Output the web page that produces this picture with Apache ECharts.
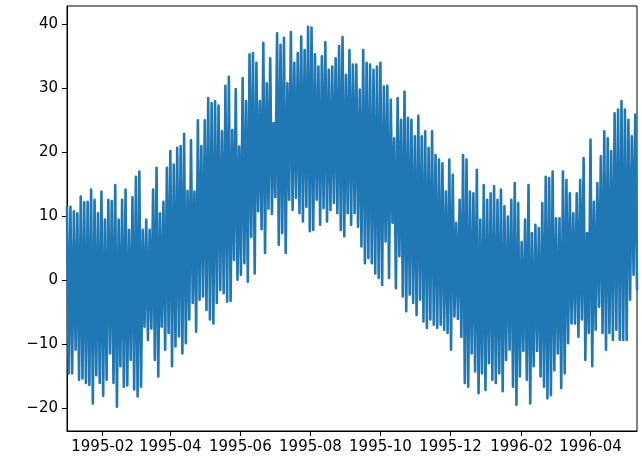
<!DOCTYPE html>
<html><head><meta charset="utf-8">
<script src="https://cdn.jsdelivr.net/npm/echarts@6/dist/echarts.min.js"></script>
<style>html,body{margin:0;padding:0;background:#fff}#c{width:642px;height:456px}</style>
</head><body><div id="c"></div>
<script>
// Series: for each 3-day block, the upper spike and the lower spike
const startDate = '1995-01-01';
const stepDays = 3;
const highs = [
 11.6,11.5,10.8,10.5,13.1,12.2,12.3,14.2,12.6,10.5,13.9,9.5,12.6,12.4,14.9,9.5,12.6,14.2,7.9,13,16.2,
 17.0,7.9,9.5,7.9,14.2,17.6,10.5,12.3,17.6,20.2,18.1,20.7,21,22.9,14,21.9,13.9,25,21,25,28.5,
 27.7,28,27.3,23.3,30.4,31.8,23.5,29.9,20.9,31.6,28,35.3,35.5,34,28,37.1,30.8,34.7,24.6,38.6,36.8,
 37.9,30.8,38.8,34,35.5,38.1,36,39.6,39.5,35.3,33.4,35,37.2,32.9,33.4,34.7,36.6,38,32.1,36,33.7,
 33.7,29.8,36,34,33.7,32.9,33.4,34,30.3,30.4,28.2,22.2,28.5,25.1,29.5,25.4,25.1,22.5,25.7,22.5,23.3,
 20.7,23.3,19.6,18.9,18.3,13.9,18.9,16.5,9,12.6,19.6,18.9,13.9,13.6,17.3,9.5,14.9,12.6,13.6,14.7,12.6,
 14.2,11.6,10,12.6,15.2,12.1,6,9.5,14.9,7.4,8.7,8.2,12.1,16.2,16,17,9.7,9.7,17,15.7,13.6,
 10.5,13.6,15.7,19.1,7.4,22,12.3,15.2,19.4,23.3,22.2,20.2,26.1,26.7,28,26.7,25.1,22.5,25.9
];
const lows = [
 -14.5,-14.5,-10.8,-15.5,-15.3,-16,-16.3,-19.2,-14.8,-16,-18,-15.5,-11.4,-16,-19.7,-13.4,-16.6,-16.4,-12.4,-17,-18.1,
 -16.6,-7.2,-9.3,-7.5,-12.4,-15,-7.2,-10.8,-8.2,-13.4,-10.3,-8.75,-11.4,-9.8,-6.1,-3.5,-8,-3,-2.5,-4.6,-6.1,
 -6.7,-3.5,-1.5,-2,-3.3,-3.2,3.2,0.1,0.9,2.7,-0.2,6.8,1.1,10.8,8,4.3,11.2,10.4,13,5.6,7.4,
 4.3,12.6,11,12.9,10.5,9.2,11.5,7.7,7.9,12.6,8.7,11.3,9.2,11,12.1,10.5,7.9,6.9,10.5,8.7,10.5,
 8.4,5.3,2.7,3.5,2.7,1.1,0.4,-0.7,6.1,0.4,9,-1.2,3.8,-2.5,-4.8,-2.2,-3.5,-5.4,-3,-6.4,-7.4,
 -6.1,-6.9,-7.4,-6.9,-7.7,-8.2,-10.8,-5.6,-6,-8.8,-16,-16.6,-11.4,-14.2,-17.6,-14.5,-17.1,-12.9,-15.5,-16,-14.5,
 -17.3,-12.4,-10.8,-16.6,-19.4,-15,-11,-15.5,-19.2,-13.4,-11,-15,-16.6,-18.4,-17.9,-14,-11.4,-16.8,-14.5,-9.8,-6.7,
 -6.7,-8.8,-6.1,-12.4,-8.2,-13.4,-7.7,-4.1,-8.2,-10.8,-8.2,-9.3,-7.7,-9.3,-9.3,-9.3,-3,0.9,-1.5
];
const xTickLabels = ['1995-02','1995-04','1995-06','1995-08','1995-10','1995-12','1996-02','1996-04'];
const yTickValues = [-20,-10,0,10,20,30,40];

const DAY = 86400000;
const t0 = Date.parse(startDate + 'T00:00:00Z');
const data = [];
for (let i = 0; i < highs.length; i++) {
  data.push([t0 + i * stepDays * DAY, highs[i]]);
  data.push([t0 + (i + 0.5) * stepDays * DAY, lows[i]]);
}
const xTicks = xTickLabels.map(s => Date.parse(s + '-01T00:00:00Z'));
function fmtMonth(v) {
  const d = new Date(v);
  const m = d.getUTCMonth() + 1;
  return d.getUTCFullYear() + '-' + (m < 10 ? '0' + m : '' + m);
}

const font = { color: '#000', fontFamily: 'DejaVu Sans', fontSize: 15 };
const chart = echarts.init(document.getElementById('c'), null, { renderer: 'canvas' });
chart.setOption({
  animation: false,
  backgroundColor: '#fff',
  grid: { left: 67, top: 6, width: 570, height: 425, show: true, borderColor: '#000', borderWidth: 1 },
  xAxis: {
    type: 'value',
    min: data[0][0],
    max: data[data.length - 1][0],
    axisLine: { show: true, onZero: false, lineStyle: { color: '#000', width: 1 } },
    axisTick: { show: true, length: 5, lineStyle: { color: '#000', width: 1 }, customValues: xTicks },
    axisLabel: Object.assign({ customValues: xTicks, margin: 9, hideOverlap: false,
      formatter: v => fmtMonth(v) }, font),
    splitLine: { show: false }
  },
  yAxis: {
    type: 'value',
    min: -23.5,
    max: 42.86,
    axisLine: { show: true, onZero: false, lineStyle: { color: '#000', width: 1 } },
    axisTick: { show: true, length: 5, lineStyle: { color: '#000', width: 1 }, customValues: yTickValues },
    axisLabel: Object.assign({ customValues: yTickValues, margin: 9,
      formatter: v => String(v).replace('-', '\u2212') }, font),
    splitLine: { show: false }
  },
  series: [{
    type: 'line',
    data: data,
    symbol: 'none',
    showSymbol: false,
    silent: true,
    clip: true,
    lineStyle: { color: '#1f77b4', width: 2.6, join: 'round' }
  }]
});
</script></body></html>
